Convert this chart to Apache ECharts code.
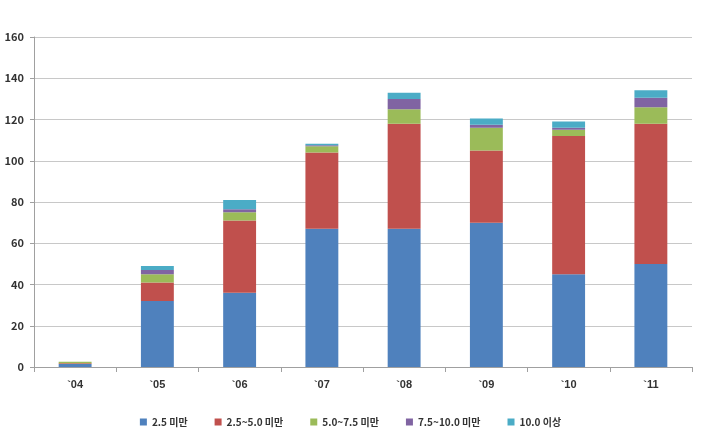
<!DOCTYPE html>
<html>
<head>
<meta charset="utf-8">
<script src="https://cdn.jsdelivr.net/npm/echarts@6/dist/echarts.min.js"></script>
<style>
html, body { margin: 0; padding: 0; background: #fff; }
#main { width: 701px; height: 432px; }
</style>
</head>
<body>
<div id="main"></div>
<script>
var years = ['`04', '`05', '`06', '`07', '`08', '`09', '`10', '`11'];
var seriesNames = ['2.5 미만', '2.5~5.0 미만', '5.0~7.5 미만', '7.5~10.0 미만', '10.0 이상'];
var under25 = [1.5, 32, 36, 67, 67, 70, 45, 50];
var from25to50 = [0.3, 9, 35, 37, 51, 35, 67, 68];
var from50to75 = [0.8, 4, 4, 3, 7, 11, 3, 8];
var from75to100 = [0, 2, 1.5, 0.5, 5, 1.5, 1, 4.5];
var over100 = [0, 2, 4.5, 0.8, 3, 3, 3, 3.7];
var colors = ['#4F81BD', '#C0504D', '#9BBB59', '#8064A2', '#4BACC6'];

var myChart = echarts.init(document.getElementById('main'));
var font = '"Noto Sans CJK KR", "Noto Sans", sans-serif';
var values = [under25, from25to50, from50to75, from75to100, over100];

var option = {
    color: colors,
    animation: false,
    textStyle: { fontFamily: font },
    legend: {
        bottom: 0,
        left: 'center',
        itemWidth: 7,
        itemHeight: 7,
        itemGap: 27,
        icon: 'rect',
        textStyle: { fontSize: 10, fontWeight: 'bold', color: '#333', fontFamily: font },
        data: seriesNames
    },
    grid: { left: 34, right: 9, top: 37, bottom: 65 },
    xAxis: {
        type: 'category',
        data: years,
        axisLine: { lineStyle: { color: '#a0a0a0' } },
        axisTick: { show: true, length: 5, lineStyle: { color: '#a0a0a0' } },
        axisLabel: {
            margin: 12, fontSize: 11, fontWeight: 'bold', color: '#333',
            fontFamily: '"Liberation Sans", Arial, sans-serif'
        }
    },
    yAxis: {
        type: 'value',
        min: 0,
        max: 160,
        interval: 20,
        axisLine: { show: true, lineStyle: { color: '#a0a0a0' } },
        axisTick: { show: true, length: 4, lineStyle: { color: '#a0a0a0' } },
        splitLine: { lineStyle: { color: '#c8c8c8' } },
        axisLabel: { margin: 10, fontSize: 11, fontWeight: 'bold', color: '#333' }
    },
    series: seriesNames.map(function (name, i) {
        return {
            name: name,
            type: 'bar',
            stack: 'total',
            barWidth: '40%',
            data: values[i]
        };
    })
};

myChart.setOption(option);
</script>
</body>
</html>
